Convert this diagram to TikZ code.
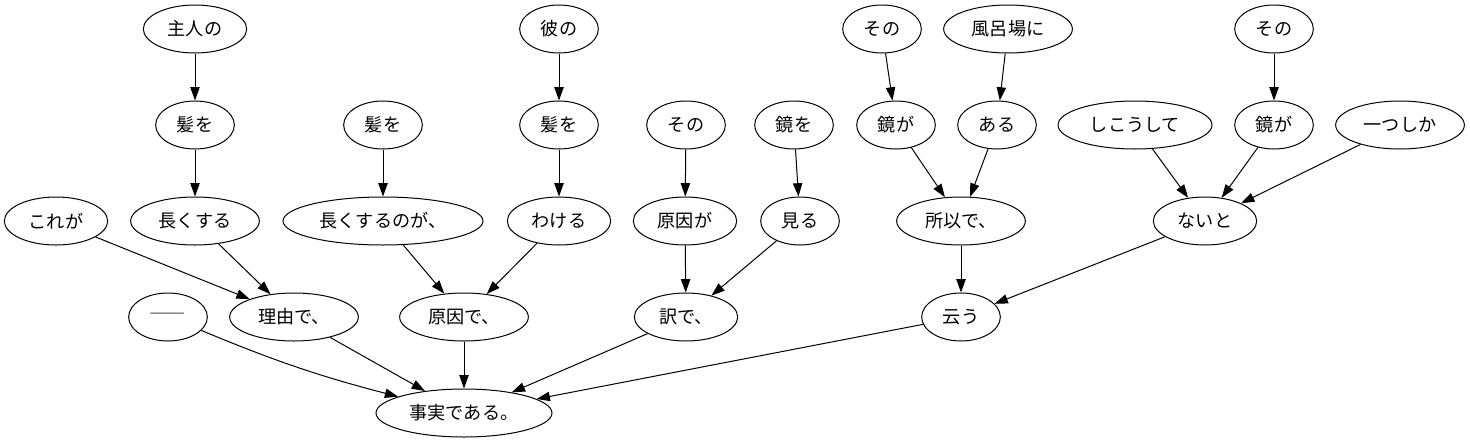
\documentclass[tikz,border=0pt]{standalone}
\usepackage{fontspec}
\newfontfamily\jp{Noto Sans CJK JP}
\newfontfamily\jpfw[RawFeature=+fwid]{Noto Sans CJK JP}
\usetikzlibrary{shapes.geometric,arrows.meta}

\begin{document}
\begin{tikzpicture}[x=0.75pt,y=-0.75pt,line width=0.75pt,
  >={Triangle[length=10pt,width=7pt]},
  dep/.style={ellipse,draw,inner sep=0pt,minimum height=36pt,font=\jp\fontsize{13.6}{15}\selectfont},
  w2/.style={dep,minimum width=59pt},
  w3/.style={dep,minimum width=77.5pt},
  w4/.style={dep,minimum width=96.5pt},
  w5/.style={dep,minimum width=115.5pt},
  w6/.style={dep,minimum width=132pt},
  w7/.style={dep,minimum width=150pt}]
\useasboundingbox (0,0) rectangle (1470,443);
\node[w3] (shujin) at (195,29) {主人の};
\node[w2] (kare) at (559,29) {彼の};
\node[w2] (sonoA) at (882,29) {その};
\node[w4] (furo) at (1008,29) {風呂場に};
\node[w2] (sonoB) at (1274,29) {その};
\node[w2] (kamiA) at (195,125) {髪を};
\node[w2] (kamiB) at (383,125) {髪を};
\node[w2] (kamiC) at (559,125) {髪を};
\node[w2] (sonoC) at (686,125) {その};
\node[w2] (kagamiwo) at (794,125) {鏡を};
\node[w2] (kagamigaA) at (896,125) {鏡が};
\node[w2] (aru) at (997,125) {ある};
\node[w5] (shikou) at (1135,125) {しこうして};
\node[w2] (kagamigaB) at (1274,125) {鏡が};
\node[w4] (hitotsu) at (1400,125) {一つしか};
\node[w3] (kore) at (56,221) {これが};
\node[w4] (nagaA) at (195,221) {長くする};
\node[w7] (nagaB) at (383,221) {長くするのが、};
\node[w3] (wakeru) at (559,221) {わける};
\node[w3] (genga) at (685,221) {原因が};
\node[w2] (miru) at (800,221) {見る};
\node[w4] (yuen) at (961,221) {所以で、};
\node[w3] (naito) at (1205,221) {ないと};
\node[w2,font=\jpfw\fontsize{13.6}{15}\selectfont] (dash) at (168,317) {——};
\node[w4] (riyu) at (294,317) {理由で、};
\node[w4] (gende) at (464,317) {原因で、};
\node[w3] (wake) at (686,317) {訳で、};
\node[w2] (iu) at (961,317) {云う};
\node[w6] (jijitsu) at (464,413) {事実である。};

\draw[->] (shujin) -- (kamiA);
\draw[->] (kamiA) -- (nagaA);
\draw[->] (kamiB) -- (nagaB);
\draw[->] (kare) -- (kamiC);
\draw[->] (kamiC) -- (wakeru);
\draw[->] (sonoC) -- (genga);
\draw[->] (kagamiwo) -- (miru);
\draw[->] (sonoA) -- (kagamigaA);
\draw[->] (furo) -- (aru);
\draw[->] (kagamigaA) -- (yuen);
\draw[->] (aru) -- (yuen);
\draw[->] (sonoB) -- (kagamigaB);
\draw[->] (shikou) -- (naito);
\draw[->] (kagamigaB) -- (naito);
\draw[->] (hitotsu) -- (naito);
\draw[->] (kore) -- (riyu);
\draw[->] (nagaA) -- (riyu);
\draw[->] (nagaB) -- (gende);
\draw[->] (wakeru) -- (gende);
\draw[->] (genga) -- (wake);
\draw[->] (miru) -- (wake);
\draw[->] (yuen) -- (iu);
\draw[->] (naito) -- (iu);
\draw[->] (dash) to[bend right=4] (jijitsu);
\draw[->] (riyu) -- (jijitsu);
\draw[->] (gende) -- (jijitsu);
\draw[->] (wake) -- (jijitsu);
\draw[->] (iu) -- (jijitsu);
\end{tikzpicture}
\end{document}
